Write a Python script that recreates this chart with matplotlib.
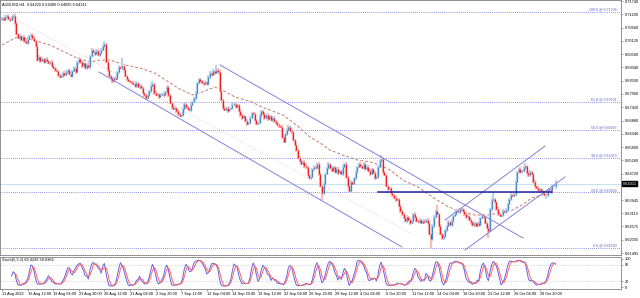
import numpy as np
import pandas as pd
import matplotlib
matplotlib.use("Agg")
import matplotlib.pyplot as plt

plt.rcParams["font.family"] = ["Liberation Sans", "DejaVu Sans"]

# --- AUDUSD H4 closes (bar 0 = 11 Aug 20:00) ---
close = [
    0.7103, 0.7098, 0.7110, 0.7112, 0.7100, 0.7095, 0.7108, 0.7112, 0.7085, 0.7040,
    0.7025, 0.7030, 0.7015, 0.7028, 0.7010, 0.7005, 0.7020, 0.7030, 0.7035, 0.7022,
    0.7010, 0.6990, 0.6935, 0.6945, 0.6930, 0.6940, 0.6925, 0.6938, 0.6932, 0.6920,
    0.6925, 0.6910, 0.6900, 0.6895, 0.6890, 0.6875, 0.6865, 0.6870, 0.6880, 0.6872,
    0.6885, 0.6895, 0.6878, 0.6870, 0.6888, 0.6900, 0.6885, 0.6925, 0.6940, 0.6925,
    0.6910, 0.6920, 0.6900, 0.6915, 0.6905, 0.6950, 0.6975, 0.6965, 0.6958, 0.6970,
    0.6955, 0.6962, 0.6975, 0.6990, 0.6998, 0.6925, 0.6895, 0.6870, 0.6860, 0.6850,
    0.6862, 0.6855, 0.6885, 0.6905, 0.6900, 0.6910, 0.6895, 0.6870, 0.6855, 0.6850,
    0.6845, 0.6840, 0.6835, 0.6830, 0.6840, 0.6825, 0.6830, 0.6820, 0.6800, 0.6790,
    0.6780, 0.6790, 0.6810, 0.6830, 0.6835, 0.6800, 0.6790, 0.6795, 0.6785, 0.6792,
    0.6798, 0.6790, 0.6805, 0.6825, 0.6790, 0.6760, 0.6745, 0.6735, 0.6740, 0.6725,
    0.6715, 0.6705, 0.6710, 0.6735, 0.6755, 0.6745, 0.6735, 0.6730, 0.6750, 0.6765,
    0.6780, 0.6800, 0.6840, 0.6855, 0.6848, 0.6840, 0.6838, 0.6845, 0.6835, 0.6865,
    0.6880, 0.6875, 0.6888, 0.6880, 0.6892, 0.6885, 0.6810, 0.6770, 0.6740, 0.6730,
    0.6738, 0.6725, 0.6735, 0.6740, 0.6752, 0.6755, 0.6745, 0.6750, 0.6725, 0.6710,
    0.6700, 0.6705, 0.6685, 0.6675, 0.6680, 0.6700, 0.6720, 0.6715, 0.6690, 0.6675,
    0.6680, 0.6705, 0.6728, 0.6715, 0.6700, 0.6710, 0.6695, 0.6705, 0.6690, 0.6698,
    0.6685, 0.6680, 0.6670, 0.6665, 0.6660, 0.6620, 0.6600, 0.6635, 0.6650, 0.6660,
    0.6645, 0.6640, 0.6610, 0.6590, 0.6570, 0.6535, 0.6525, 0.6510, 0.6520, 0.6505,
    0.6500, 0.6465, 0.6455, 0.6460, 0.6490, 0.6500, 0.6495, 0.6510, 0.6470, 0.6420,
    0.6395, 0.6430, 0.6470, 0.6495, 0.6510, 0.6495, 0.6485, 0.6500, 0.6480, 0.6490,
    0.6475, 0.6485, 0.6470, 0.6500, 0.6510, 0.6460, 0.6420, 0.6400, 0.6440, 0.6430,
    0.6455, 0.6480, 0.6500, 0.6510, 0.6505, 0.6495, 0.6510, 0.6490, 0.6500, 0.6485,
    0.6470, 0.6490, 0.6475, 0.6455, 0.6460, 0.6500, 0.6525, 0.6530, 0.6480, 0.6465,
    0.6420, 0.6410, 0.6415, 0.6395, 0.6385, 0.6375, 0.6365, 0.6370, 0.6340, 0.6320,
    0.6310, 0.6290, 0.6280, 0.6295, 0.6285, 0.6270, 0.6280, 0.6310, 0.6295, 0.6280,
    0.6275, 0.6285, 0.6270, 0.6280, 0.6275, 0.6285, 0.6270, 0.6225, 0.6205, 0.6260,
    0.6295, 0.6320, 0.6310, 0.6260, 0.6225, 0.6210, 0.6220, 0.6245, 0.6260, 0.6275,
    0.6265, 0.6280, 0.6300, 0.6310, 0.6320, 0.6315, 0.6325, 0.6330, 0.6320, 0.6310,
    0.6295, 0.6300, 0.6285, 0.6275, 0.6265, 0.6270, 0.6260, 0.6270, 0.6262, 0.6290,
    0.6300, 0.6295, 0.6270, 0.6250, 0.6240, 0.6330, 0.6365, 0.6370, 0.6355, 0.6330,
    0.6310, 0.6300, 0.6305, 0.6320, 0.6315, 0.6325, 0.6350, 0.6370, 0.6385, 0.6380,
    0.6390, 0.6440, 0.6480, 0.6490, 0.6480, 0.6485, 0.6495, 0.6505, 0.6475, 0.6465,
    0.6480, 0.6470, 0.6440, 0.6420, 0.6415, 0.6405, 0.6410, 0.6400, 0.6395, 0.6385,
    0.6385, 0.6400, 0.6410, 0.6405, 0.6420, 0.6422, 0.64311,
]
first_open = 0.7100

# shadow lengths beyond the body, in units of WICK_UNIT (one digit per bar)
WICK_UNIT = 0.0004
wick_up = (
    "1121211221" "1211212112" "2112121121" "1211211212" "2112121121"
    "1211212112" "2121311211" "1212182112" "1121211221" "1212312112"
    "1211221121" "2112121121" "1211212112" "2121522112" "1211212112"
    "2112121121" "1211212112" "2112121122" "1211212112" "2112121121"
    "1211212112" "2112121121" "1211212112" "2112121421" "1211212112"
    "2112121121" "1211212112" "2161212112" "1211212112" "2112121121"
    "1211212712" "2112121121" "1211212312" "2112121121" "1211214"
)
wick_dn = (
    "2112121121" "1211212112" "1121211221" "2112121121" "1211212112"
    "2112121121" "1211212112" "2112121121" "1211212112" "2112121121"
    "1211212112" "2112121121" "1211212112" "2112121121" "1211212112"
    "2112121121" "1211212112" "2112121121" "1211212112" "2112121121"
    "7211212112" "2112121121" "1211212112" "2112121121" "1211212112"
    "2112121121" "1211212192" "2112122121" "1211212112" "2112121121"
    "1211712112" "2112121121" "1211212112" "2112121121" "4211213"
)

x_labels = ["11 Aug 2022", "16 Aug 12:00", "19 Aug 04:00", "23 Aug 20:00", "26 Aug 12:00",
            "31 Aug 04:00", "2 Sep 20:00", "7 Sep 12:00", "12 Sep 04:00", "14 Sep 20:00",
            "19 Sep 12:00", "22 Sep 04:00", "26 Sep 20:00", "29 Sep 12:00", "4 Oct 04:00",
            "6 Oct 20:00", "11 Oct 12:00", "14 Oct 04:00", "18 Oct 20:00", "21 Oct 12:00",
            "26 Oct 04:00", "28 Oct 20:00"]
label_step = 16

y_ticks = [0.71740, 0.71200, 0.70660, 0.70120, 0.69580, 0.69040, 0.68500, 0.67960,
           0.67420, 0.66880, 0.66340, 0.65800, 0.65260, 0.64720, 0.63645, 0.63115,
           0.62575, 0.62035, 0.61495]

fib_low, fib_high = 0.61690, 0.71304
fib_pcts = [0.0, 23.6, 38.2, 50.0, 61.8, 100.0]

# dashed moving average
ma_bar = [0, 9.4, 19, 30, 47, 55, 61, 67.5, 77, 86, 95.6, 104, 110, 119, 125, 133, 137.5,
          145.6, 156, 162.5, 170.6, 175.6, 184, 192.5, 199, 205, 213, 222, 230, 236, 242.5,
          250.6, 260, 269, 279, 287.5, 295.6, 304, 310, 319, 325, 331, 337.5, 344]
ma_val = [0.6995, 0.7028, 0.7016, 0.6995, 0.6942, 0.6926, 0.6934, 0.6934, 0.6914, 0.6902,
          0.6881, 0.6845, 0.6820, 0.6792, 0.6804, 0.6824, 0.6812, 0.6784, 0.6764, 0.6743,
          0.6723, 0.6711, 0.6670, 0.6621, 0.6597, 0.6568, 0.6548, 0.6528, 0.6520, 0.6507,
          0.6487, 0.6446, 0.6418, 0.6377, 0.6337, 0.6316, 0.6304, 0.6304, 0.6312, 0.6324,
          0.6345, 0.6373, 0.6385, 0.6394]

# drawn trend lines: (bar, price) end points
down_upper = [(136.3, 0.69139), (325.6, 0.62106)]
down_lower = [(60.6, 0.68854), (250.0, 0.61741)]
up_upper = [(276.9, 0.62838), (339.4, 0.65846)]
up_lower = [(289.4, 0.61619), (351.9, 0.64586)]
faint_line = [(6.9, 0.71049), (255.0, 0.62310)]
support_bars = (235, 344)

chart_title = "AUDUSD,H4  0.64220 0.64490 0.64095 0.64311"
stoch_title = "Stoch(5,3,3) 69.4226 58.8366"
last_price = 0.64311

# ---------------------------------------------------------------
c = np.array(close)
o = np.concatenate([[first_open], c[:-1]])
up_w = np.array([int(ch) for ch in wick_up]) * WICK_UNIT
dn_w = np.array([int(ch) for ch in wick_dn]) * WICK_UNIT
hi = np.maximum(o, c) + up_w
lo = np.minimum(o, c) - dn_w
idx = np.arange(len(c))
bull = c >= o

# stochastic 5,3,3
n = len(c)
k = np.full(n, np.nan)
for i in range(6, n):
    num = den = 0.0
    for j in range(i - 2, i + 1):
        ll = lo[j - 4:j + 1].min()
        num += c[j] - ll
        den += hi[j - 4:j + 1].max() - ll
    k[i] = 100 * num / den
d = pd.Series(k).rolling(3).mean().values

fs = 2.8
grey = "#808080"
xmin, xmax = -1.25, 386.9

fig = plt.figure(figsize=(6.4, 2.98), dpi=100)
ax = fig.add_axes([0.0, 43 / 298, 621 / 640, 255 / 298])
ax2 = fig.add_axes([0.0, 9 / 298, 621 / 640, 32 / 298])

# fib levels
for p in fib_pcts:
    lvl = fib_low + (fib_high - fib_low) * p / 100
    ax.axhline(lvl, color="#6a6ad6", lw=0.6, ls=(0, (1, 1.5)), zorder=1)
    ax.text(384.4, lvl + 0.0002, f"{p:.1f} @ {lvl:.5f}", ha="right", va="bottom",
            fontsize=fs - 0.2, color="#5a5ad0", zorder=5)

ax.axhline(last_price, color="#bfe4f2", lw=0.7, zorder=1)

ax.plot([p[0] for p in faint_line], [p[1] for p in faint_line], color="#f2c8c8",
        lw=0.5, ls=(0, (2, 2)), zorder=1)
ax.plot(ma_bar, ma_val, color="#c87a6c", lw=0.7, ls=(0, (3, 2)), zorder=2)

ax.vlines(idx, lo, hi, colors=np.where(bull, "#b8d5ef", "#f9baba"), lw=1.6, zorder=3)
ax.vlines(idx, np.minimum(o, c), np.maximum(o, c),
          colors=np.where(bull, "#4a86c6", "#f02020"), lw=0.9, zorder=4)

for line in (down_upper, down_lower, up_upper, up_lower):
    ax.plot([p[0] for p in line], [p[1] for p in line], color="#8282dc", lw=0.7, zorder=5)
fib236 = fib_low + (fib_high - fib_low) * 0.236
ax.plot(support_bars, [fib236, fib236], color="#23239e", lw=1.1, zorder=5)

ax.set_xlim(xmin, xmax)
ax.set_ylim(0.61415, 0.71781)
ax.yaxis.tick_right()
ax.set_yticks(y_ticks)
ax.set_yticklabels([f"{t:.5f}" for t in y_ticks])
ax.set_xticks([])
ax.tick_params(axis="y", labelsize=fs, length=1.5, width=0.5, color=grey, pad=1)
ax.text(0.003, 0.992, chart_title, transform=ax.transAxes, fontsize=fs, va="top")
ax.annotate(f"{last_price:.5f}", xy=(1.003, last_price), xycoords=("axes fraction", "data"),
            fontsize=fs, color="white", va="center", ha="left", annotation_clip=False,
            bbox=dict(boxstyle="square,pad=0.12", fc="black", ec="black"))

# stochastic panel
ax2.axhline(80, color="#c8c8c8", lw=0.6, ls=(0, (1, 1.5)))
ax2.axhline(20, color="#c8c8c8", lw=0.6, ls=(0, (1, 1.5)))
ax2.plot(idx, k, color="#6262e6", lw=0.7)
ax2.plot(idx, d, color="#ff6464", lw=0.7)
ax2.set_xlim(xmin, xmax)
ax2.set_ylim(-7, 107)
ax2.yaxis.tick_right()
ax2.set_yticks([0, 20, 80, 100])
ax2.tick_params(axis="y", labelsize=fs, length=1.5, width=0.5, color=grey, pad=1)
ax2.set_xticks([i * label_step for i in range(len(x_labels))])
ax2.set_xticklabels(x_labels, ha="left")
ax2.tick_params(axis="x", labelsize=fs, length=1.5, width=0.5, color=grey, pad=1)
ax2.text(0.003, 0.97, stoch_title, transform=ax2.transAxes, fontsize=fs, va="top")

for a in (ax, ax2):
    for s in a.spines.values():
        s.set_color(grey)
        s.set_linewidth(0.6)

fig.savefig("out.png", dpi=100, facecolor="white")
